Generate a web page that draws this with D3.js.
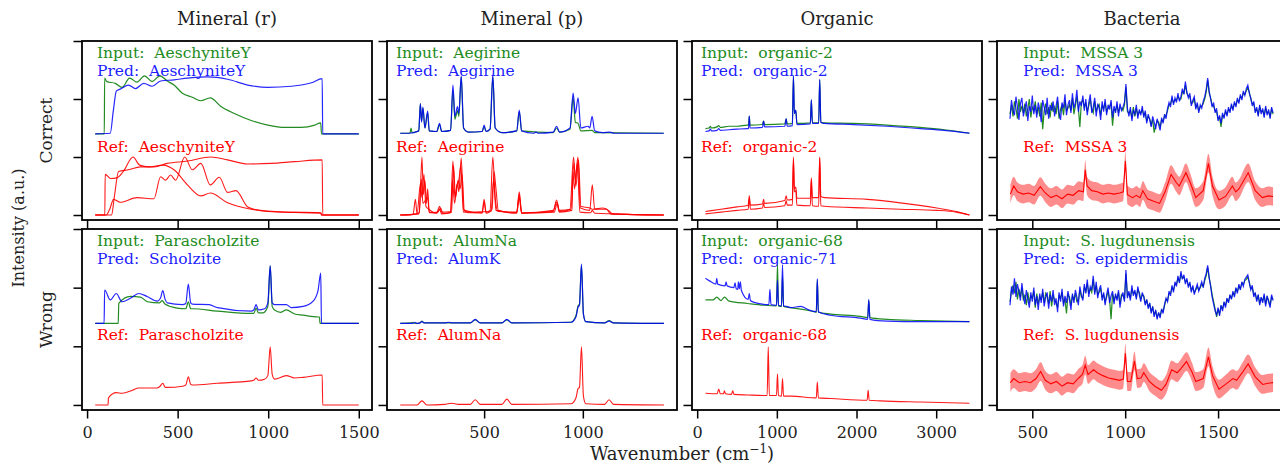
<!DOCTYPE html>
<html>
<head>
<meta charset="utf-8">
<script src="https://cdn.jsdelivr.net/npm/d3@7"></script>
<style>
  body { margin: 0; background: #fff; }
  svg text { font-family: "DejaVu Serif", "Liberation Serif", serif; }
</style>
</head>
<body>
<div id="chart"></div>
<script>
// ---- labels ----
const columnTitles = ["Mineral (r)", "Mineral (p)", "Organic", "Bacteria"];
const rowTitles = ["Correct", "Wrong"];
const inputNames = ["AeschyniteY", "Aegirine", "organic-2", "MSSA 3", "Parascholzite", "AlumNa", "organic-68", "S. lugdunensis"];
const predNames  = ["AeschyniteY", "Aegirine", "organic-2", "MSSA 3", "Scholzite", "AlumK", "organic-71", "S. epidermidis"];

// axis limits / ticks per column
const colXDomain = [[-28, 1573], [8, 1477], [-65, 3575], [310, 1871]];
const colXTicks = [[0, 500, 1000, 1500], [500, 1000], [0, 1000, 2000, 3000], [500, 1000, 1500]];
const yDomain = [-0.086, 3.0];
const yTicks = [0, 1, 2, 3];

// ---- Mineral (r), correct ----
const mrCInput = [[45,1.40],[95,1.40],[97,2.36],[109,2.30],[156,2.27],[193,2.20],[235,2.36],[276,2.29],[317,2.40],[359,2.30],[402,2.40],[443,2.31],[480,2.24],[526,2.10],[581,2.03],[628,1.97],[680,2.02],[739,1.87],[813,1.75],[906,1.63],[998,1.55],[1091,1.51],[1183,1.51],[1257,1.55],[1290,1.59],[1294,1.40],[1500,1.40]];
const mrCPred = [[45,1.40],[128,1.41],[145,1.80],[162,2.14],[183,2.17],[229,2.24],[267,2.18],[313,2.27],[359,2.22],[406,2.31],[480,2.33],[554,2.36],[665,2.38],[776,2.34],[887,2.24],[998,2.20],[1128,2.22],[1239,2.28],[1298,2.35],[1301,1.40],[1500,1.40]];
const mrCRefA = [[45,0],[135,0],[150,0.30],[174,0.75],[229,0.78],[294,0.83],[369,0.83],[443,0.89],[554,0.93],[683,1.0],[776,0.95],[887,0.88],[1017,0.89],[1146,0.92],[1298,0.95],[1301,0],[1500,0]];
const mrCRefB = [[45,0],[98,0],[100,0.70],[130,0.63],[165,0.64],[200,0.75],[254,1.0],[290,0.86],[340,0.83],[420,0.86],[480,0.78],[554,0.52],[628,0.33],[680,0.38],[776,0.21],[906,0.10],[1091,0.05],[1291,0.04],[1294,0],[1500,0]];
const mrCRefC = [[45,0],[105,0],[125,0.10],[146,0.27],[183,0.22],[276,0.30],[369,0.28],[406,0.66],[433,0.60],[461,0.69],[489,0.60],[539,1.0],[581,0.78],[628,0.89],[680,0.52],[730,0.65],[776,0.39],[822,0.42],[887,0.14],[998,0.06],[1291,0.03],[1294,0],[1500,0]];

// ---- Mineral (p), correct ----
const mpCInput = [[75,1.41],[120,1.41],[125,1.42],[130,1.50],[135,1.42],[169,1.45],[177,1.92],[183,1.62],[190,1.84],[200,1.50],[214,1.76],[222,1.45],[260,1.44],[274,1.56],[285,1.44],[330,1.46],[342,2.15],[352,1.65],[365,1.80],[372,1.70],[384,2.38],[396,1.50],[420,1.43],[490,1.44],[500,1.52],[510,1.44],[530,1.48],[544,2.38],[556,1.50],[590,1.42],[665,1.45],[678,1.78],[690,1.45],[850,1.42],[867,1.50],[882,1.43],[935,1.48],[951,2.02],[962,1.60],[976,1.58],[990,1.45],[1047,1.46],[1060,1.42],[1410,1.41]];
const mpCPred = [[75,1.41],[120,1.41],[169,1.45],[177,1.92],[183,1.60],[190,1.86],[200,1.50],[214,1.79],[222,1.45],[260,1.44],[274,1.58],[285,1.44],[330,1.46],[342,2.24],[352,1.70],[365,1.87],[372,1.75],[384,2.40],[396,1.50],[420,1.43],[490,1.44],[500,1.55],[510,1.44],[530,1.48],[544,2.41],[556,1.50],[590,1.42],[665,1.45],[678,1.81],[690,1.45],[750,1.41],[763,1.43],[775,1.41],[850,1.43],[867,1.53],[882,1.43],[935,1.50],[951,2.10],[962,1.75],[976,2.02],[990,1.50],[1027,1.53],[1035,1.50],[1047,1.70],[1060,1.45],[1100,1.42],[1136,1.43],[1160,1.41],[1410,1.41]];
const mpCRefA = [[75,0],[140,0.01],[152,0.27],[160,0.02],[172,0.05],[185,1.0],[192,0.35],[200,0.60],[208,0.20],[214,0.45],[222,0.05],[260,0.04],[274,0.15],[285,0.05],[330,0.06],[342,0.93],[352,0.30],[365,0.55],[372,0.40],[384,0.98],[396,0.10],[420,0.04],[490,0.05],[500,0.27],[510,0.05],[530,0.08],[544,1.0],[556,0.30],[570,0.06],[665,0.05],[678,0.40],[690,0.04],[850,0.06],[867,0.26],[882,0.06],[935,0.10],[953,1.0],[962,0.60],[975,1.0],[988,0.12],[1035,0.08],[1048,0.52],[1060,0.10],[1120,0.10],[1140,0.02],[1410,0]];
const mpCRefB = [[75,0],[160,0.02],[178,0.55],[185,0.30],[195,0.70],[205,0.15],[220,0.10],[260,0.03],[274,0.10],[285,0.02],[335,0.05],[345,0.85],[355,0.30],[368,0.60],[378,0.45],[388,0.70],[400,0.08],[490,0.03],[500,0.22],[510,0.03],[540,0.10],[550,0.75],[560,0.45],[572,0.08],[665,0.03],[678,0.30],[690,0.03],[850,0.08],[867,0.22],[882,0.08],[940,0.10],[955,0.90],[965,0.50],[978,0.95],[990,0.15],[1035,0.12],[1048,0.10],[1100,0.12],[1130,0.08],[1150,0.02],[1410,0]];
const mpCRefC = [[75,0],[170,0.02],[182,0.62],[190,0.20],[214,0.30],[222,0.04],[265,0.05],[280,0.12],[290,0.03],[330,0.04],[340,0.60],[350,0.20],[362,0.50],[372,0.60],[382,0.85],[395,0.05],[535,0.06],[548,0.60],[560,0.08],[665,0.04],[678,0.35],[690,0.03],[855,0.05],[870,0.20],[880,0.05],[945,0.08],[950,0.75],[958,0.45],[972,0.90],[985,0.05],[1040,0.04],[1048,0.08],[1060,0.03],[1410,0]];

// ---- Organic, correct ----
const orgCInput = [[104,1.49],[150,1.50],[165,1.53],[180,1.50],[250,1.52],[270,1.54],[290,1.51],[400,1.53],[500,1.53],[633,1.55],[645,1.55],[654,1.70],[663,1.55],[820,1.56],[833,1.62],[846,1.56],[1100,1.57],[1117,1.66],[1130,1.57],[1195,1.58],[1208,2.38],[1220,1.75],[1238,1.80],[1252,1.58],[1420,1.59],[1433,1.98],[1446,1.59],[1525,1.59],[1538,2.33],[1552,1.60],[1592,1.59],[1967,1.58],[2383,1.55],[2800,1.51],[3100,1.47],[3417,1.41]];
const orgCPred = [[104,1.44],[150,1.45],[165,1.48],[180,1.45],[250,1.46],[270,1.49],[290,1.46],[400,1.47],[500,1.48],[633,1.49],[645,1.49],[654,1.71],[663,1.50],[820,1.51],[833,1.62],[846,1.52],[1100,1.53],[1117,1.66],[1130,1.53],[1195,1.54],[1208,2.40],[1220,1.75],[1238,1.81],[1252,1.56],[1420,1.57],[1433,1.99],[1446,1.58],[1525,1.58],[1538,2.34],[1552,1.60],[1592,1.58],[1967,1.56],[2383,1.53],[2800,1.49],[3100,1.46],[3417,1.41]];
const orgCRefA = [[104,0.06],[300,0.10],[500,0.14],[640,0.17],[654,0.33],[668,0.17],[820,0.19],[833,0.27],[846,0.20],[1100,0.25],[1117,0.33],[1130,0.26],[1195,0.27],[1208,1.0],[1220,0.45],[1238,0.48],[1252,0.29],[1420,0.29],[1433,0.64],[1446,0.30],[1525,0.30],[1538,1.0],[1552,0.32],[1600,0.30],[2133,0.27],[2550,0.21],[3008,0.12],[3250,0.06],[3417,0.0]];
const orgCRefB = [[104,0.02],[300,0.05],[500,0.08],[640,0.10],[654,0.28],[668,0.10],[820,0.12],[833,0.20],[846,0.13],[1100,0.16],[1117,0.25],[1130,0.17],[1195,0.17],[1208,0.95],[1220,0.40],[1238,0.42],[1252,0.17],[1420,0.16],[1433,0.60],[1446,0.16],[1525,0.15],[1538,0.98],[1552,0.16],[1600,0.15],[2133,0.12],[2550,0.10],[3008,0.08],[3250,0.05],[3417,0.0]];

// ---- Bacteria (read every 8 cm-1 from 380) ----
const bacWn = d3.range(380, 1800, 8);
const bacCInput = [
  1.74,1.90,1.70,1.96,1.84,1.66,2.00,1.78,1.88,1.76, 1.92,1.70,1.84,2.00,1.68,1.86,1.80,1.96,1.74,1.86,
  1.70,1.94,1.48,1.80,1.92,1.74,1.86,1.68,1.94,1.78, 1.86,1.74,1.96,1.66,1.82,1.90,1.72,1.98,1.80,1.84,
  1.90,1.80,2.02,1.74,1.88,2.04,1.84,1.52,1.94,1.98, 1.86,1.94,1.78,1.88,2.00,1.82,1.76,1.96,1.78,1.86,
  1.90,1.72,1.88,1.84,1.94,1.78,1.84,1.88,1.92,1.54, 1.82,1.80,1.90,1.76,1.86,1.84,1.80,1.90,2.20,1.78,
  1.76,1.80,1.68,1.86,1.70,1.84,1.72,1.78,1.76,1.82, 1.72,1.76,1.62,1.70,1.66,1.56,1.64,1.42,1.54,1.62,
  1.60,1.52,1.64,1.62,1.70,1.72,1.80,1.90,1.92,2.00, 1.94,1.98,1.98,2.04,2.00,2.00,2.12,2.10,2.24,2.10,
  2.06,2.04,1.92,1.94,2.00,1.86,1.90,1.80,1.86,1.88, 1.92,2.00,2.12,2.32,2.10,2.02,1.90,1.88,1.80,1.78,
  1.66,1.68,1.52,1.72,1.70,1.78,1.74,1.82,1.80,1.88, 1.84,1.92,1.90,1.98,1.96,2.04,2.02,2.10,2.08,2.14,
  2.20,2.12,2.00,1.92,1.92,1.80,1.82,1.74,1.86,1.78, 1.80,1.72,1.84,1.76,1.78,1.70,1.82,1.74];
const bacCPred = [
  1.66,1.98,1.80,1.72,2.04,1.86,1.64,1.92,2.02,1.70, 1.84,1.96,1.62,1.88,1.78,2.06,1.74,1.90,1.68,1.94,
  1.82,1.60,1.98,1.86,1.72,2.02,1.66,1.90,1.80,1.96, 1.70,1.88,2.04,1.76,1.64,1.94,1.84,2.08,1.72,1.90,
  1.98,1.76,2.10,1.84,1.94,2.16,1.78,1.96,1.88,2.06, 1.80,2.00,1.72,1.94,2.08,1.76,1.86,2.02,1.70,1.92,
  1.84,1.64,1.96,1.78,2.00,1.72,1.90,1.82,1.98,1.68, 1.88,1.76,1.96,1.70,1.92,1.80,1.86,1.94,2.26,1.84,
  1.70,1.86,1.62,1.80,1.74,1.90,1.66,1.82,1.72,1.88, 1.68,1.80,1.58,1.74,1.64,1.52,1.70,1.60,1.48,1.66,
  1.56,1.46,1.68,1.58,1.74,1.66,1.84,1.94,1.86,2.06, 1.90,2.02,1.94,2.10,1.96,2.04,2.18,2.08,2.30,2.12,
  2.02,2.10,1.88,1.98,2.04,1.82,1.94,1.76,1.90,1.84, 1.96,2.04,2.16,2.36,2.14,2.00,1.86,1.94,1.76,1.84,
  1.62,1.72,1.58,1.76,1.66,1.82,1.70,1.86,1.76,1.92, 1.80,1.96,1.86,2.02,1.92,2.08,1.98,2.14,2.06,2.18,
  2.24,2.10,2.02,1.88,1.96,1.76,1.86,1.70,1.90,1.74, 1.84,1.68,1.88,1.72,1.82,1.66,1.86,1.76];
const bacCRef = [[382,0.36],[400,0.50],[420,0.40],[450,0.36],[480,0.38],[510,0.34],[543,0.49],[570,0.38],[600,0.30],[630,0.34],[660,0.28],[690,0.36],[720,0.34],[750,0.42],[775,0.40],[785,0.78],[795,0.50],[820,0.42],[850,0.40],[880,0.36],[910,0.38],[940,0.36],[970,0.38],[990,0.40],[1001,0.93],[1012,0.35],[1040,0.30],[1060,0.34],[1080,0.30],[1095,0.42],[1120,0.28],[1150,0.24],[1185,0.20],[1215,0.40],[1247,0.70],[1275,0.56],[1291,0.50],[1327,0.73],[1350,0.56],[1380,0.30],[1420,0.42],[1448,0.89],[1470,0.50],[1505,0.26],[1540,0.32],[1577,0.50],[1595,0.40],[1612,0.45],[1662,0.73],[1700,0.42],[1738,0.30],[1770,0.33],[1796,0.32]];
const bacWInput = [
  1.76,1.94,2.04,1.90,2.10,1.80,1.98,1.84,2.00,1.78, 1.88,1.70,1.92,1.74,1.86,1.82,1.94,1.66,1.90,1.72,
  1.84,1.80,1.92,1.74,1.90,1.84,1.72,1.94,1.68,1.88, 1.78,1.74,1.66,1.86,1.82,1.92,1.74,1.80,1.56,1.88,
  1.84,1.70,1.86,1.80,1.90,1.76,1.78,1.96,1.84,1.82, 2.00,1.94,2.08,1.90,1.98,1.92,2.14,1.92,2.04,1.88,
  1.92,1.98,1.84,1.88,1.76,1.84,1.94,1.80,1.46,1.90, 1.78,1.86,1.82,1.92,1.72,1.88,1.86,1.80,2.24,1.86,
  1.90,1.82,1.98,1.90,1.92,1.84,1.96,1.92,1.80,1.88, 1.86,1.74,1.78,1.68,1.72,1.60,1.66,1.54,1.60,1.50,
  1.56,1.52,1.62,1.60,1.70,1.80,1.78,1.90,1.90,2.00, 1.96,2.06,2.06,2.16,2.10,2.22,2.16,2.18,2.10,2.12,
  2.04,2.06,1.96,2.00,1.92,1.96,2.02,1.96,2.00,2.06, 2.02,2.12,2.20,2.34,2.16,2.04,1.88,1.76,1.64,1.50,
  1.62,1.56,1.68,1.64,1.74,1.70,1.80,1.76,1.86,1.82, 1.90,1.88,1.98,1.94,2.02,1.98,2.08,2.06,2.12,2.14,
  2.18,2.10,1.98,2.00,1.88,1.90,1.80,1.86,1.74,1.82, 1.78,1.86,1.72,1.84,1.78,1.70,1.84,1.80];
const bacWPred = [
  1.70,2.02,1.88,2.16,1.84,2.06,1.94,1.78,2.08,1.86, 1.72,1.96,1.80,1.66,1.92,1.76,2.00,1.70,1.86,1.62,
  1.90,1.74,1.98,1.68,1.84,1.92,1.64,1.88,1.76,1.96, 1.70,1.82,1.58,1.92,1.76,1.98,1.68,1.86,1.74,1.94,
  1.80,1.62,1.90,1.74,1.96,1.84,1.70,2.02,1.88,1.78, 2.06,1.90,2.14,1.84,2.02,1.96,2.20,1.88,2.10,1.82,
  1.96,2.04,1.78,1.92,1.70,1.88,2.00,1.74,1.86,1.94, 1.72,1.90,1.78,1.96,1.66,1.84,1.92,1.76,2.30,1.82,
  1.94,1.78,2.04,1.86,1.96,1.80,2.02,1.88,1.76,1.92, 1.84,1.70,1.80,1.64,1.74,1.56,1.68,1.50,1.62,1.46,
  1.58,1.48,1.64,1.56,1.72,1.82,1.76,1.94,1.86,2.04, 1.92,2.10,2.02,2.20,2.08,2.28,2.14,2.22,2.06,2.16,
  2.00,2.10,1.92,2.04,1.88,1.98,2.06,1.94,2.02,2.10, 2.00,2.16,2.24,2.38,2.18,2.02,1.84,1.72,1.60,1.54,
  1.66,1.52,1.70,1.60,1.76,1.66,1.82,1.74,1.88,1.80, 1.94,1.84,2.00,1.90,2.06,1.96,2.10,2.02,2.14,2.18,
  2.22,2.08,1.96,2.04,1.84,1.92,1.76,1.88,1.70,1.84, 1.74,1.90,1.68,1.86,1.76,1.66,1.88,1.78];
const bacWRef = [[382,0.38],[400,0.45],[430,0.38],[460,0.40],[490,0.38],[520,0.45],[545,0.57],[570,0.42],[600,0.36],[630,0.40],[660,0.32],[690,0.38],[720,0.36],[750,0.46],[770,0.52],[785,0.68],[800,0.52],[830,0.60],[850,0.55],[880,0.50],[910,0.46],[940,0.44],[970,0.42],[990,0.44],[1001,0.88],[1012,0.40],[1030,0.40],[1050,0.75],[1065,0.45],[1085,0.46],[1100,0.55],[1130,0.40],[1160,0.32],[1195,0.25],[1220,0.35],[1250,0.60],[1280,0.55],[1300,0.62],[1330,0.74],[1360,0.56],[1380,0.40],[1420,0.45],[1448,0.82],[1470,0.50],[1505,0.27],[1540,0.35],[1580,0.45],[1600,0.42],[1630,0.55],[1662,0.70],[1700,0.48],[1740,0.35],[1770,0.37],[1796,0.38]];
const bacRefStd = 0.16;

// ---- Mineral (r), wrong ----
const mrWInput = [[45,1.39],[172,1.39],[175,1.73],[239,1.85],[294,1.84],[333,1.76],[400,1.74],[415,1.78],[430,1.72],[498,1.65],[545,1.64],[559,1.76],[572,1.64],[581,1.64],[720,1.60],[906,1.56],[920,1.56],[933,1.65],[946,1.57],[970,1.57],[998,1.68],[1011,2.37],[1022,1.68],[1035,1.62],[1070,1.58],[1100,1.62],[1146,1.55],[1193,1.53],[1276,1.50],[1283,1.50],[1286,1.39],[1500,1.39]];
const mrWPred = [[45,1.39],[94,1.39],[97,1.96],[128,1.79],[161,1.90],[193,1.76],[239,1.82],[285,1.90],[331,1.85],[387,1.77],[405,1.82],[418,1.95],[431,1.80],[443,1.74],[526,1.71],[545,1.73],[559,2.06],[572,1.74],[581,1.72],[674,1.71],[720,1.66],[906,1.60],[920,1.62],[933,1.71],[946,1.62],[980,1.64],[998,1.74],[1011,2.37],[1022,1.74],[1035,1.71],[1100,1.71],[1128,1.66],[1193,1.68],[1248,1.77],[1275,1.95],[1290,2.25],[1294,1.39],[1500,1.39]];
const mrWRef = [[45,0],[116,0],[118,0.12],[161,0.21],[194,0.20],[250,0.25],[285,0.29],[387,0.29],[400,0.31],[418,0.37],[431,0.30],[443,0.30],[526,0.32],[545,0.34],[559,0.48],[572,0.35],[581,0.34],[720,0.37],[906,0.41],[920,0.42],[933,0.46],[946,0.42],[980,0.44],[998,0.50],[1011,0.99],[1022,0.52],[1035,0.44],[1100,0.50],[1146,0.46],[1193,0.47],[1298,0.51],[1301,0],[1500,0]];

// ---- Mineral (p), wrong ----
const mpWInput = [[75,1.39],[130,1.40],[140,1.41],[150,1.39],[175,1.40],[185,1.43],[195,1.40],[430,1.40],[455,1.45],[480,1.40],[590,1.40],[615,1.45],[640,1.40],[940,1.41],[965,1.52],[976,1.69],[983,1.72],[993,2.38],[1003,1.55],[1015,1.42],[1110,1.40],[1133,1.44],[1155,1.40],[1411,1.39]];
const mpWPred = [[75,1.39],[140,1.39],[150,1.41],[160,1.39],[175,1.40],[185,1.42],[195,1.40],[300,1.40],[320,1.41],[340,1.40],[430,1.40],[455,1.46],[480,1.40],[590,1.40],[615,1.46],[640,1.40],[940,1.41],[965,1.50],[976,1.67],[983,1.70],[993,2.40],[1003,1.55],[1015,1.42],[1110,1.40],[1133,1.43],[1155,1.40],[1411,1.39]];
const mpWRef = [[75,0],[160,0],[185,0.07],[210,0],[300,0.01],[335,0.03],[370,0.01],[430,0.01],[455,0.09],[480,0.01],[590,0.01],[615,0.10],[640,0.01],[940,0.02],[965,0.12],[976,0.28],[983,0.30],[993,0.99],[1003,0.15],[1015,0.02],[1110,0.01],[1133,0.09],[1155,0.01],[1411,0]];

// ---- Organic, wrong ----
const orgWInput = [[104,1.79],[200,1.79],[246,1.84],[300,1.78],[342,1.84],[400,1.77],[633,1.73],[842,1.70],[995,1.69],[1008,2.39],[1020,1.69],[1058,1.68],[1071,2.20],[1084,1.68],[1175,1.66],[1467,1.59],[1495,1.58],[1508,2.13],[1521,1.58],[1675,1.55],[2050,1.51],[2140,1.49],[2154,1.78],[2168,1.49],[2383,1.46],[2800,1.44],[3417,1.42]];
const orgWPred = [[104,2.16],[150,2.12],[235,2.06],[246,2.16],[257,2.06],[350,2.03],[363,2.10],[376,2.03],[460,2.00],[475,2.08],[490,1.98],[510,1.97],[517,2.10],[530,1.98],[542,2.10],[555,1.95],[640,1.80],[654,1.90],[668,1.78],[717,1.75],[900,1.71],[913,1.97],[926,1.71],[995,1.70],[1008,2.13],[1020,1.70],[1058,1.69],[1071,2.39],[1084,1.69],[1120,1.68],[1175,1.66],[1300,1.68],[1400,1.62],[1495,1.59],[1508,2.15],[1521,1.59],[1675,1.53],[2050,1.48],[2140,1.46],[2154,1.80],[2168,1.46],[2383,1.43],[2800,1.42],[3417,1.42]];
const orgWRef = [[104,0.20],[250,0.19],[271,0.27],[290,0.19],[330,0.19],[342,0.24],[355,0.19],[430,0.18],[446,0.24],[462,0.18],[633,0.17],[878,0.16],[892,0.99],[906,0.16],[995,0.16],[1008,0.53],[1020,0.16],[1058,0.15],[1071,0.45],[1084,0.15],[1175,0.15],[1495,0.12],[1508,0.39],[1521,0.12],[1675,0.11],[2133,0.08],[2146,0.25],[2159,0.08],[2300,0.07],[2800,0.05],[3417,0.03]];

// ===== layout =====
const W = 1280, H = 465;
const panelLeft = [82, 387, 692, 997];
const panelW = 290;
const rowTop = [41, 229];
const rowH = [179, 181];
const labelDx = [15, 9, 9, 26];

const GREEN = "#228b22", BLUE = "#0000ff", RED = "#ff0000";

const bacPairs = vals => bacWn.map((w, i) => [w, vals[i]]);

const panels = [
  { row: 0, col: 0, input: mrCInput, pred: mrCPred, refs: [mrCRefA, mrCRefB, mrCRefC] },
  { row: 0, col: 1, input: mpCInput, pred: mpCPred, refs: [mpCRefA, mpCRefB, mpCRefC] },
  { row: 0, col: 2, input: orgCInput, pred: orgCPred, refs: [orgCRefA, orgCRefB] },
  { row: 0, col: 3, input: bacPairs(bacCInput), pred: bacPairs(bacCPred), refMean: bacCRef, noisy: true },
  { row: 1, col: 0, input: mrWInput, pred: mrWPred, refs: [mrWRef] },
  { row: 1, col: 1, input: mpWInput, pred: mpWPred, refs: [mpWRef] },
  { row: 1, col: 2, input: orgWInput, pred: orgWPred, refs: [orgWRef] },
  { row: 1, col: 3, input: bacPairs(bacWInput), pred: bacPairs(bacWPred), refMean: bacWRef, noisy: true }
];

const svg = d3.select("#chart").append("svg")
  .attr("width", W)
  .attr("height", H);

panels.forEach((p, idx) => {
  const w = panelW, h = rowH[p.row];
  const g = svg.append("g")
    .attr("transform", `translate(${panelLeft[p.col]},${rowTop[p.row]})`);

  const x = d3.scaleLinear().domain(colXDomain[p.col]).range([0, w]);
  const y = d3.scaleLinear().domain(yDomain).range([h, 0]);

  const clipId = "clip" + idx;
  g.append("clipPath").attr("id", clipId)
    .append("rect").attr("width", w).attr("height", h);
  const plot = g.append("g").attr("clip-path", `url(#${clipId})`);

  const smooth = d3.line().x(d => x(d[0])).y(d => y(d[1]))
    .curve(p.noisy ? d3.curveLinear : d3.curveMonotoneX);

  // reference spectra
  if (p.refMean) {
    const band = d3.area()
      .x(d => x(d[0]))
      .y0(d => y(d[1] - bacRefStd))
      .y1(d => y(d[1] + bacRefStd))
      .curve(d3.curveMonotoneX);
    plot.append("path").datum(p.refMean)
      .attr("d", band)
      .attr("fill", RED)
      .attr("fill-opacity", 0.45);
    plot.append("path").datum(p.refMean)
      .attr("d", d3.line().x(d => x(d[0])).y(d => y(d[1])).curve(d3.curveLinear))
      .attr("fill", "none").attr("stroke", RED).attr("stroke-width", 1.1);
  } else {
    p.refs.forEach(r => {
      plot.append("path").datum(r)
        .attr("d", smooth)
        .attr("fill", "none")
        .attr("stroke", RED)
        .attr("stroke-width", 1.1)
        .attr("stroke-opacity", 0.9);
    });
  }

  // input then prediction on top
  plot.append("path").datum(p.input)
    .attr("d", smooth)
    .attr("fill", "none").attr("stroke", GREEN).attr("stroke-width", 1.2);
  plot.append("path").datum(p.pred)
    .attr("d", smooth)
    .attr("fill", "none").attr("stroke", BLUE).attr("stroke-width", 1.2)
    .attr("stroke-opacity", 0.85);

  // labels (lines kept 18px apart so they do not collide)
  const tx = labelDx[p.col];
  const lab = g.append("g").style("font-size", "15.5px");
  lab.append("text").attr("x", tx).attr("y", 16.5).attr("fill", GREEN)
    .text("Input:\u00a0\u00a0" + inputNames[idx]);
  lab.append("text").attr("x", tx).attr("y", 35).attr("fill", BLUE)
    .attr("fill-opacity", 0.9)
    .text("Pred:\u00a0\u00a0" + predNames[idx]);
  lab.append("text").attr("x", tx).attr("y", 111).attr("fill", RED)
    .text("Ref:\u00a0\u00a0" + inputNames[idx]);

  // axes
  const yAxis = g.append("g")
    .call(d3.axisLeft(y).tickValues(yTicks).tickFormat("").tickSize(8.5).tickSizeOuter(0));
  const xAxis = g.append("g")
    .attr("transform", `translate(0,${h})`)
    .call(d3.axisBottom(x).tickValues(colXTicks[p.col])
      .tickFormat(p.row === 1 ? d3.format("d") : "")
      .tickSize(8.5).tickSizeOuter(0).tickPadding(8));
  [yAxis, xAxis].forEach(a => {
    a.select(".domain").remove();
    a.selectAll(".tick line").attr("stroke", "#000").attr("stroke-width", 1.5);
  });
  xAxis.selectAll(".tick text")
    .attr("fill", "#222")
    .style("font-family", "'DejaVu Serif', 'Liberation Serif', serif")
    .style("font-size", "16px");

  // frame
  g.append("rect")
    .attr("width", w).attr("height", h)
    .attr("fill", "none").attr("stroke", "#000").attr("stroke-width", 1.8);
});

// column titles
columnTitles.forEach((t, c) => {
  svg.append("text")
    .attr("x", panelLeft[c] + panelW / 2)
    .attr("y", 25)
    .attr("text-anchor", "middle")
    .style("font-size", "18px")
    .attr("fill", "#222")
    .text(t);
});

// row titles
rowTitles.forEach((t, r) => {
  svg.append("text")
    .attr("transform", `translate(52,${rowTop[r] + rowH[r] / 2}) rotate(-90)`)
    .attr("text-anchor", "middle")
    .style("font-size", "17px")
    .attr("fill", "#222")
    .text(t);
});

// shared axis labels
svg.append("text")
  .attr("transform", "translate(24,228) rotate(-90)")
  .attr("text-anchor", "middle")
  .style("font-size", "16px")
  .attr("fill", "#222")
  .text("Intensity (a.u.)");

const xl = svg.append("text")
  .attr("x", 682)
  .attr("y", 460)
  .attr("text-anchor", "middle")
  .style("font-size", "18px")
  .attr("fill", "#222");
xl.append("tspan").text("Wavenumber (cm");
xl.append("tspan").attr("dy", -7).style("font-size", "12px").text("\u22121");
xl.append("tspan").attr("dy", 7).text(")");
</script>
</body>
</html>
